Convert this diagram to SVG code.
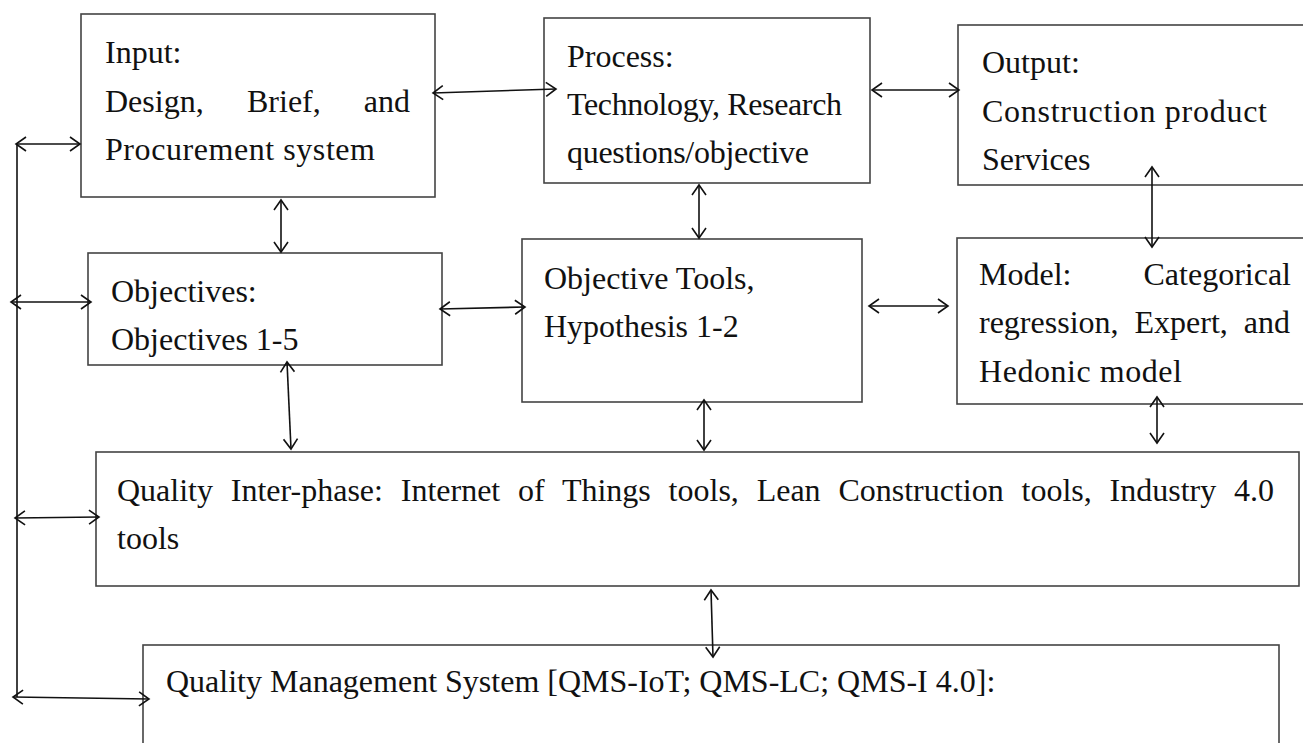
<svg xmlns="http://www.w3.org/2000/svg" width="1303" height="743" viewBox="0 0 1303 743">
<style>
.box{fill:#fff;stroke:#444;stroke-width:1.6}
.t{font-family:"Liberation Serif","Times New Roman",serif;font-size:32px;fill:#111}
.c{fill:none;stroke:#111;stroke-width:1.6}
</style>
<defs>
<marker id="ah" viewBox="-1 -1 13 16" refX="10" refY="7" markerWidth="13" markerHeight="16" markerUnits="userSpaceOnUse" orient="auto-start-reverse">
<path d="M0,0 L10,7 L0,14" fill="none" stroke="#111" stroke-width="1.6"/>
</marker>
</defs>
<rect width="1303" height="743" fill="#fff"/>

<g id="input">
<rect class="box" x="81" y="14" width="354" height="183"/>
<text class="t" x="105" y="63">Input:</text>
<text class="t" x="105" y="112">Design,</text>
<text class="t" x="247" y="112">Brief,</text>
<text class="t" x="410" y="112" text-anchor="end">and</text>
<text class="t" x="105" y="160" textLength="270">Procurement system</text>
</g>

<g id="process">
<rect class="box" x="544" y="18" width="326" height="165"/>
<text class="t" x="567" y="67">Process:</text>
<text class="t" x="567" y="115" textLength="275">Technology, Research</text>
<text class="t" x="567" y="163" textLength="242">questions/objective</text>
</g>

<g id="output">
<rect class="box" x="958" y="25" width="360" height="160"/>
<text class="t" x="982" y="73">Output:</text>
<text class="t" x="982" y="122" textLength="285">Construction product</text>
<text class="t" x="982" y="170">Services</text>
</g>

<g id="objectives">
<rect class="box" x="88" y="253" width="354" height="112"/>
<text class="t" x="111" y="302">Objectives:</text>
<text class="t" x="111" y="350">Objectives 1-5</text>
</g>

<g id="objective-tools">
<rect class="box" x="522" y="239" width="340" height="163"/>
<text class="t" x="544" y="289">Objective Tools,</text>
<text class="t" x="544" y="337">Hypothesis 1-2</text>
</g>

<g id="model">
<rect class="box" x="957" y="238" width="360" height="166"/>
<text class="t" x="979" y="285">Model:</text>
<text class="t" x="1291" y="285" text-anchor="end">Categorical</text>
<text class="t" x="979" y="333" word-spacing="8">regression, Expert, and</text>
<text class="t" x="979" y="382" textLength="203">Hedonic model</text>
</g>

<g id="quality-interphase">
<rect class="box" x="96" y="452" width="1203" height="134"/>
<text class="t" x="117" y="501" word-spacing="9.8">Quality Inter-phase: Internet of Things tools, Lean Construction tools, Industry 4.0</text>
<text class="t" x="117" y="549">tools</text>
</g>

<g id="qms">
<rect class="box" x="143" y="645" width="1136" height="110"/>
<text class="t" x="166" y="692">Quality Management System [QMS-IoT; QMS-LC; QMS-I 4.0]:</text>
</g>

<g id="connectors">
<line class="c" x1="17" y1="144" x2="17" y2="697"/>
<line class="c" x1="16" y1="144" x2="80" y2="144" marker-start="url(#ah)" marker-end="url(#ah)"/>
<line class="c" x1="11" y1="302" x2="91" y2="302" marker-start="url(#ah)" marker-end="url(#ah)"/>
<line class="c" x1="15" y1="518" x2="99" y2="517" marker-start="url(#ah)" marker-end="url(#ah)"/>
<line class="c" x1="13" y1="697" x2="149" y2="699" marker-start="url(#ah)" marker-end="url(#ah)"/>
<line class="c" x1="433" y1="93" x2="556" y2="89" marker-start="url(#ah)" marker-end="url(#ah)"/>
<line class="c" x1="872" y1="90" x2="959" y2="90" marker-start="url(#ah)" marker-end="url(#ah)"/>
<line class="c" x1="281" y1="200" x2="281" y2="252" marker-start="url(#ah)" marker-end="url(#ah)"/>
<line class="c" x1="699" y1="185" x2="699" y2="238" marker-start="url(#ah)" marker-end="url(#ah)"/>
<line class="c" x1="1152" y1="167" x2="1152" y2="247" marker-start="url(#ah)" marker-end="url(#ah)"/>
<line class="c" x1="440" y1="309" x2="525" y2="307" marker-start="url(#ah)" marker-end="url(#ah)"/>
<line class="c" x1="869" y1="306" x2="948" y2="306" marker-start="url(#ah)" marker-end="url(#ah)"/>
<line class="c" x1="287" y1="362" x2="291" y2="449" marker-start="url(#ah)" marker-end="url(#ah)"/>
<line class="c" x1="704" y1="400" x2="704" y2="450" marker-start="url(#ah)" marker-end="url(#ah)"/>
<line class="c" x1="1157" y1="397" x2="1157" y2="443" marker-start="url(#ah)" marker-end="url(#ah)"/>
<line class="c" x1="711" y1="590" x2="713" y2="657" marker-start="url(#ah)" marker-end="url(#ah)"/>
</g>
</svg>
